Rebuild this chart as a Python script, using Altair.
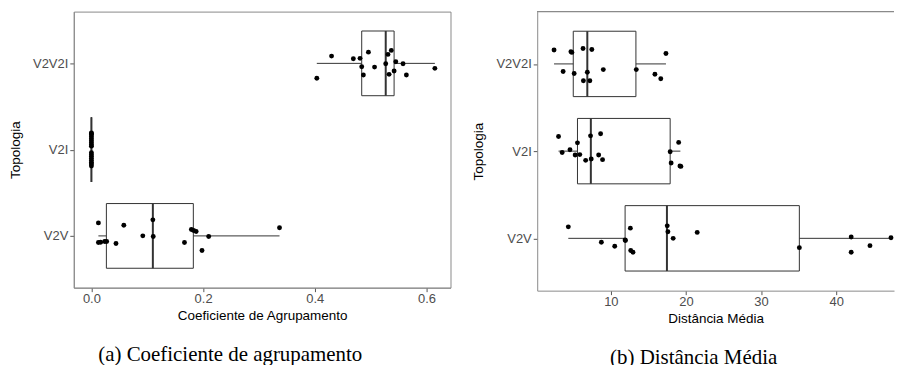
import altair as alt
import pandas as pd

# ---------------- data ----------------
categories = ["V2V", "V2I", "V2V2I"]          # bottom -> top
cat_pos = [1, 2, 3]

# (a) Coeficiente de agrupamento : points (value, vertical jitter in category units)
ca_v2v_x = [0.0125, 0.0125, 0.0166, 0.0238, 0.0273, 0.044, 0.058, 0.092, 0.110,
            0.1107, 0.1666, 0.179, 0.183, 0.1875, 0.198, 0.210, 0.3368]
ca_v2v_j = [0.151, -0.076, -0.073, -0.065, -0.065, -0.088, 0.124, 0.001, 0.186,
            -0.007, -0.076, 0.074, 0.062, 0.051, -0.169, -0.007, 0.094]
ca_v2i_x = [0.0, 0.0, 0.0, 0.0, 0.0, 0.0, 0.0, 0.0, 0.0, 0.0, 0.0, 0.0, 0.0,
            0.0, 0.0, 0.0, 0.0]
ca_v2i_j = [0.194, 0.185, 0.173, 0.150, 0.127, 0.104, 0.081, 0.058, 0.040,
            -0.035, -0.058, -0.081, -0.104, -0.127, -0.150, -0.167, -0.190]
ca_v2v2i_x = [0.4036, 0.430, 0.469, 0.481, 0.484, 0.487, 0.496, 0.507, 0.527,
              0.531, 0.533, 0.537, 0.542, 0.545, 0.558, 0.564, 0.615]
ca_v2v2i_j = [-0.173, 0.084, 0.053, 0.058, -0.039, -0.135, 0.130, -0.043, -0.005,
              0.104, -0.127, 0.150, -0.089, 0.018, -0.005, -0.135, -0.058]

# box statistics (a): V2V, V2I, V2V2I
ca_lo = [0.0125, 0.0, 0.4036]
ca_q1 = [0.0268, 0.0, 0.484]
ca_med = [0.110, 0.0, 0.527]
ca_q3 = [0.1825, 0.0, 0.542]
ca_hi = [0.3368, 0.0, 0.615]

# (b) Distância Média : points
db_v2v_x = [4.34, 8.74, 10.52, 11.9, 11.95, 12.6, 12.65, 12.95, 17.51, 17.6,
            18.3, 21.5, 35.1, 42.0, 42.0, 44.5, 47.3]
db_v2v_j = [0.132, -0.045, -0.091, -0.019, -0.025, 0.117, -0.14, -0.16, 0.143,
            0.075, 0.0, 0.068, -0.107, 0.015, -0.16, -0.084, 0.007]
db_v2i_x = [3.04, 3.52, 4.56, 5.25, 5.56, 5.87, 6.65, 7.30, 7.39, 8.38, 8.64,
            8.9, 17.9, 18.03, 19.03, 19.2, 19.33]
db_v2i_j = [0.167, -0.015, 0.016, -0.045, 0.095, -0.04, -0.106, 0.175, -0.09,
            -0.045, 0.2, -0.098, -0.007, -0.136, 0.1, -0.17, -0.175]
db_v2v2i_x = [2.44, 3.65, 4.69, 4.82, 5.12, 6.30, 6.35, 6.87, 7.21, 7.47, 9.0,
              13.39, 15.87, 16.65, 17.34]
db_v2v2i_j = [0.159, -0.087, 0.14, 0.132, -0.11, 0.177, -0.193, -0.095, -0.193,
              0.166, -0.065, -0.065, -0.118, -0.17, 0.12]

db_lo = [4.34, 3.04, 2.44]
db_q1 = [11.9, 5.56, 5.0]
db_med = [17.47, 7.34, 6.87]
db_q3 = [35.1, 17.9, 13.34]
db_hi = [47.3, 19.26, 17.34]

ca_ticks = [0.0, 0.2, 0.4, 0.6]
db_ticks = [10, 20, 30, 40]

# ---------------- helpers ----------------
label_expr = ("datum.value == 1 ? '%s' : datum.value == 2 ? '%s' : '%s'"
              % tuple(categories))

GRAY = "#333333"
AXIS_GRAY = "#8a8a8a"


def points_df(xs_list, js_list):
    rows = []
    for p, xs, js in zip(cat_pos, xs_list, js_list):
        for x, j in zip(xs, js):
            rows.append({"val": x, "pos": p + j})
    return pd.DataFrame(rows)


def box_df(lo, q1, med, q3, hi):
    return pd.DataFrame({"pos": cat_pos, "cat": categories, "lo": lo, "q1": q1,
                         "med": med, "q3": q3, "hi": hi})


def panel(pts, box, domain, ticks, fmt, xtitle, caption, w, h, dx, top_rule):
    xs = alt.Scale(domain=domain, nice=False, zero=False)
    ys = alt.Scale(domain=[0.4, 3.6], nice=False, zero=False)
    xax = alt.Axis(values=ticks, format=fmt, title=xtitle, grid=False)
    yax = alt.Axis(values=cat_pos, labelExpr=label_expr, title="Topologia", grid=False)

    base_b = alt.Chart(box).transform_calculate(
        b0="datum.pos - 0.375", b1="datum.pos + 0.375")

    whisk = base_b.mark_rule(color=GRAY, strokeWidth=1).encode(
        x=alt.X("lo:Q", scale=xs, axis=xax), x2="hi:Q",
        y=alt.Y("pos:Q", scale=ys, axis=yax))
    rect = base_b.mark_rect(fill="white", stroke=GRAY, strokeWidth=1).encode(
        x="q1:Q", x2="q3:Q", y="b0:Q", y2="b1:Q")
    med = base_b.mark_rule(color=GRAY, strokeWidth=2).encode(
        x="med:Q", y="b0:Q", y2="b1:Q")
    dots = alt.Chart(pts).mark_circle(size=24, color="black", opacity=1).encode(
        x="val:Q", y="pos:Q")

    layers = [whisk, rect, med, dots]
    if top_rule:
        layers.append(alt.Chart(box).mark_rule(color=AXIS_GRAY, strokeWidth=1).encode(
            x=alt.value(0), x2=alt.value(w), y=alt.value(0)))
        view = alt.ViewBackground(stroke="transparent")
    else:
        view = alt.ViewBackground(stroke=AXIS_GRAY, strokeWidth=1)

    return alt.layer(*layers, view=view).properties(
        width=w, height=h,
        title=alt.TitleParams(caption, orient="bottom", anchor="middle",
                              font="Liberation Serif", fontSize=21,
                              fontWeight="normal", color="black",
                              offset=22, dx=dx))


pa = panel(points_df([ca_v2v_x, ca_v2i_x, ca_v2v2i_x],
                     [ca_v2v_j, ca_v2i_j, ca_v2v2i_j]),
           box_df(ca_lo, ca_q1, ca_med, ca_q3, ca_hi),
           [-0.0316, 0.643], ca_ticks, ".1f", "Coeficiente de Agrupamento",
           "(a) Coeficiente de agrupamento", 378, 277, -32, False)

pb = panel(points_df([db_v2v_x, db_v2i_x, db_v2v2i_x],
                     [db_v2v_j, db_v2i_j, db_v2v2i_j]),
           box_df(db_lo, db_q1, db_med, db_q3, db_hi),
           [0.2, 47.7], db_ticks, "d", "Distância Média",
           "(b) Distância Média", 358, 280, -22, True)

chart = alt.hconcat(pa, pb, spacing=20).properties(
    padding={"left": 0, "top": 2, "right": 0, "bottom": 0}
).configure_axis(
    labelFont="Liberation Sans", labelFontSize=13, labelColor="#4d4d4d",
    titleFont="Liberation Sans", titleFontSize=13.5, titleFontWeight="normal",
    titleColor="black", domainColor=AXIS_GRAY, domainWidth=1,
    tickColor="#555555", tickSize=4, labelPadding=2, titlePadding=10
).configure_axisX(
    labelPadding=1, titlePadding=3
).configure_view(stroke=AXIS_GRAY)

chart.save("out.html", embed_options={"renderer": "svg", "actions": False})
